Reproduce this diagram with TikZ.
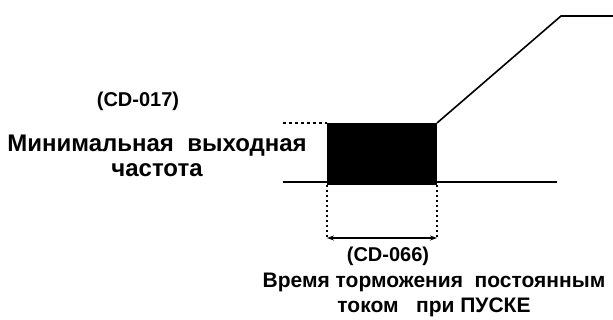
\documentclass[tikz,border=0pt]{standalone}
\usepackage{fontspec}
\setmainfont{Liberation Sans}
\usetikzlibrary{arrows.meta, positioning}

\begin{document}
\begin{tikzpicture}[
  x=1pt, y=-1pt,
  lbl/.style={font=\fontsize{21}{25}\selectfont\bfseries, align=center, inner sep=0pt},
  biglbl/.style={lbl, font=\fontsize{24}{25}\selectfont\bfseries},
  code/.style={font=\fontsize{20}{24}\selectfont\bfseries, inner sep=0pt},
  curve/.style={line width=1.6pt},
  guide/.style={line width=1.2pt, dash pattern=on 3pt off 3pt},
  vline/.style={line width=1.2pt, dash pattern=on 2pt off 3pt},
  dim/.style={{Stealth[length=7pt,width=5pt]}-{Stealth[length=7pt,width=5pt]}, line width=1.2pt},
]
  \useasboundingbox (0,0) rectangle (613,320);

  %% ── Key points of the curve ──
  \coordinate (base_l)  at (283, 182);
  \coordinate (base_r)  at (557, 182);
  \coordinate (dc_tl)   at (327, 123);
  \coordinate (dc_tr)   at (437, 123);
  \coordinate (dc_br)   at (437, 185);
  \coordinate (min_l)   at (283, 123);
  \coordinate (ramp_e)  at (561, 16);
  \coordinate (top_e)   at (613, 16);
  \coordinate (dim_l)   at (327, 238);
  \coordinate (dim_r)   at (437, 238);

  %% ── Labels ──
  \node[code] (cd017) at (138, 101) {(CD-017)};
  \node[biglbl] (minfreq) at (157, 156) {Минимальная\ \ выходная\\частота};
  \node[code] (cd066) at (388, 256) {(CD-066)};
  \node[lbl] (brake) at (434, 295) {Время\ торможения\ \ постоянным\\током\ \ \ при\ ПУСКЕ};

  %% ── DC braking block ──
  \fill (dc_tl) rectangle (dc_br);

  %% ── Output frequency ──
  \draw[curve] (base_l) -- (base_r);
  \draw[guide] (min_l) -- (dc_tl);
  \draw[curve] (dc_tr) -- (ramp_e) -- (top_e);

  %% ── Braking time span ──
  \draw[vline] (dc_tl |- dc_br) -- (dim_l);
  \draw[vline] (dc_br) -- (dim_r);
  \draw[dim] (dim_l) -- (dim_r);
\end{tikzpicture}
\end{document}
